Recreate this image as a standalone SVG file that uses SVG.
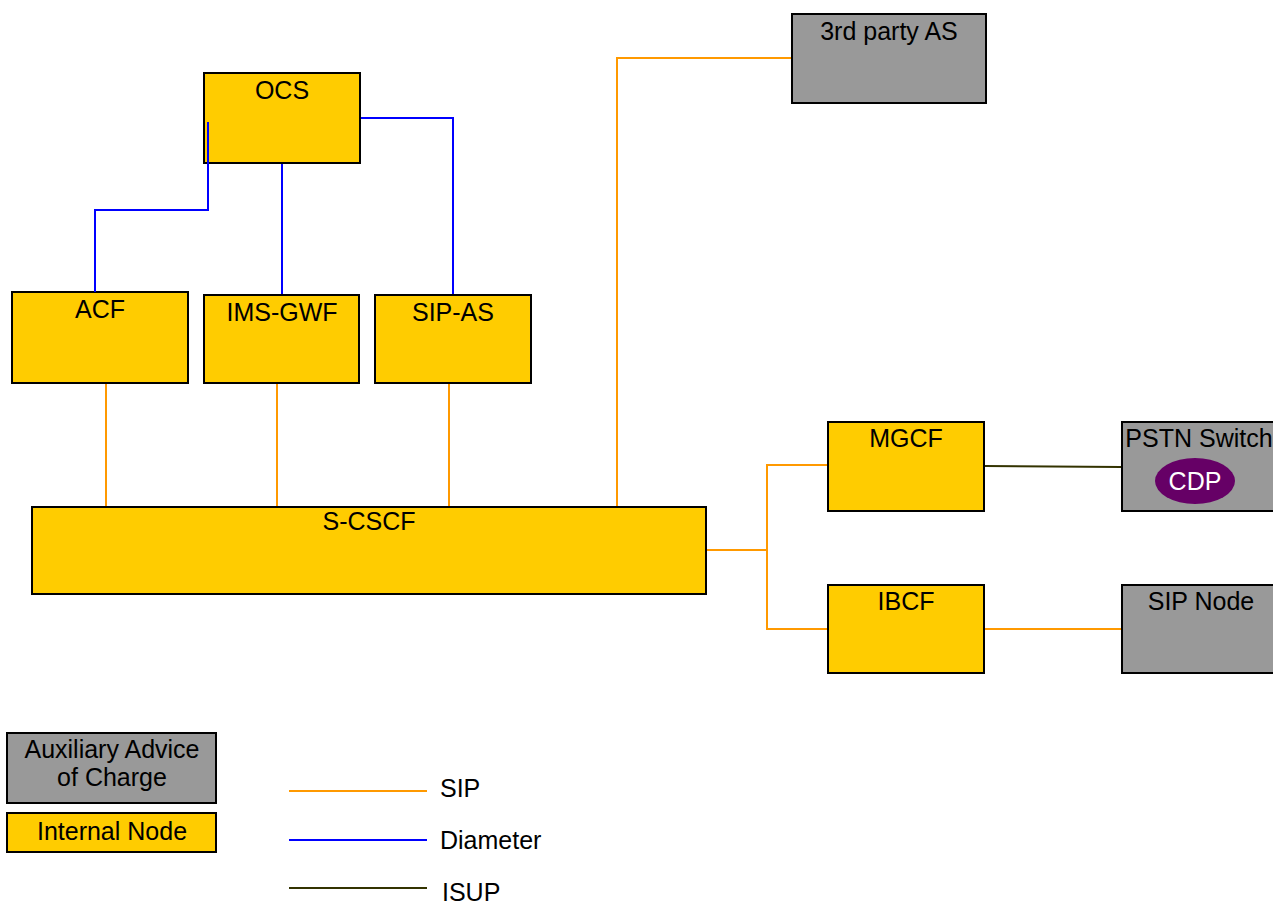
<svg xmlns="http://www.w3.org/2000/svg" width="1273" height="904" viewBox="0 0 1273 904">
<style>
.int{fill:#FFCC00;stroke:#000;stroke-width:2}
.aux{fill:#999999;stroke:#000;stroke-width:2}
.t{font-family:"Liberation Sans",Arial,sans-serif;font-size:25px;fill:#000;text-anchor:middle}
.lt{font-family:"Liberation Sans",Arial,sans-serif;font-size:25px;fill:#000}
.sip{fill:none;stroke:#FF9900;stroke-width:2}
.dia{fill:none;stroke:#0000FF;stroke-width:2}
.isup{fill:none;stroke:#333300;stroke-width:2}
</style>
<rect width="1273" height="904" fill="#fff"/>
<g id="OCS"><rect class="int" x="204" y="73" width="156" height="90"/><text class="t" x="282" y="99">OCS</text></g>
<g id="ACF"><rect class="int" x="12" y="292" width="176" height="91"/><text class="t" x="100" y="318">ACF</text></g>
<g id="IMS-GWF"><rect class="int" x="204" y="295" width="155" height="88"/><text class="t" x="282" y="321">IMS-GWF</text></g>
<g id="SIP-AS"><rect class="int" x="375" y="295" width="156" height="88"/><text class="t" x="453" y="321">SIP-AS</text></g>
<g id="S-CSCF"><rect class="int" x="32" y="507" width="674" height="87"/><text class="t" x="369" y="530">S-CSCF</text></g>
<g id="third-party-AS"><rect class="aux" x="792" y="14" width="194" height="89"/><text class="t" x="889" y="40">3rd party AS</text></g>
<g id="MGCF"><rect class="int" x="828" y="422" width="156" height="89"/><text class="t" x="906" y="447">MGCF</text></g>
<g id="IBCF"><rect class="int" x="828" y="585" width="156" height="88"/><text class="t" x="906" y="610">IBCF</text></g>
<g id="PSTN-Switch"><rect class="aux" x="1122" y="422" width="160" height="89"/><text class="t" x="1199" y="447">PSTN Switch</text>
<ellipse cx="1195" cy="481" rx="40" ry="23" fill="#660066"/><text class="t" x="1195" y="490" style="fill:#fff">CDP</text></g>
<g id="SIP-Node"><rect class="aux" x="1122" y="585" width="160" height="88"/><text class="t" x="1201" y="610">SIP Node</text></g>
<g id="connectors">
<polyline class="dia" points="208,122 208,210 95,210 95,292"/>
<polyline class="dia" points="282,164 282,294"/>
<polyline class="dia" points="361,118 453,118 453,294"/>
<polyline class="sip" points="106,384 106,506"/>
<polyline class="sip" points="277,384 277,506"/>
<polyline class="sip" points="449,384 449,506"/>
<polyline class="sip" points="617,506 617,58 791,58"/>
<polyline class="sip" points="707,550 767,550"/>
<polyline class="sip" points="827,465 767,465 767,629 827,629"/>
<polyline class="isup" points="985,466 1121,467"/>
<polyline class="sip" points="985,629 1121,629"/>
</g>
<g id="legend">
<rect class="aux" x="7" y="733" width="209" height="70"/>
<text class="t" x="112" y="758">Auxiliary Advice</text>
<text class="t" x="112" y="786">of Charge</text>
<rect class="int" x="7" y="813" width="209" height="39"/>
<text class="t" x="112" y="840">Internal Node</text>
<line class="sip" x1="289" y1="791" x2="427" y2="791"/>
<text class="lt" x="440" y="797">SIP</text>
<line class="dia" x1="289" y1="840" x2="427" y2="840"/>
<text class="lt" x="440" y="849">Diameter</text>
<line class="isup" x1="289" y1="888" x2="427" y2="888"/>
<text class="lt" x="442" y="901">ISUP</text>
</g>
</svg>
